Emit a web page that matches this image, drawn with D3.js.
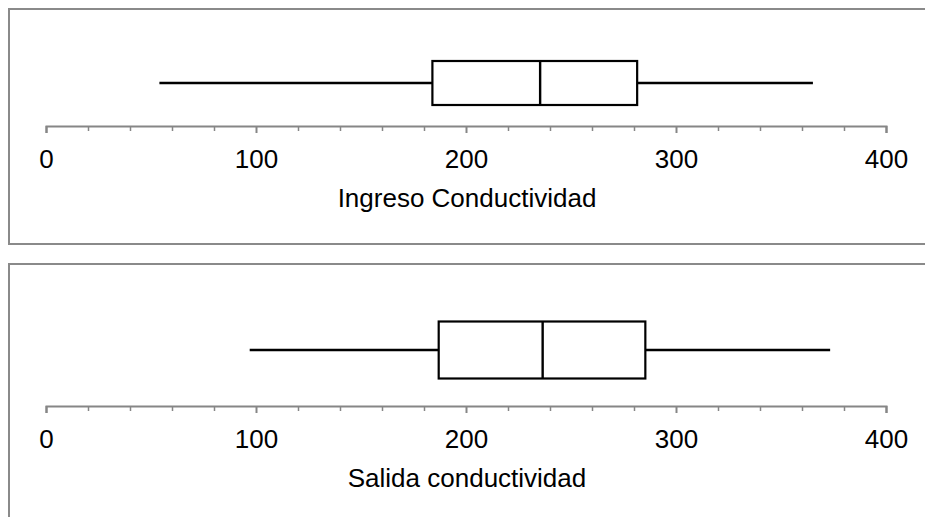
<!DOCTYPE html>
<html>
<head>
<meta charset="utf-8">
<script src="https://cdn.jsdelivr.net/npm/d3@7"></script>
<style>
  html, body { margin: 0; padding: 0; background: #fff; }
  svg { display: block; }
  text { font-family: "Liberation Sans", Arial, sans-serif; }
</style>
</head>
<body>
<svg id="chart" width="925" height="517"></svg>
<script>
// ---- Data ----
const panelTitles = ["Ingreso Conductividad", "Salida conductividad"];
const minValues = [54, 97];
const q1Values = [184, 187];
const medianValues = [235.3, 236.5];
const q3Values = [281.5, 285.4];
const maxValues = [365.2, 373.4];
const majorTicks = [0, 100, 200, 300, 400];
const minorTicks = [20, 40, 60, 80, 120, 140, 160, 180, 220, 240, 260, 280, 320, 340, 360, 380];

// ---- Layout ----
const panelTop = [9, 264];
const panelBottom = [244, 540];
const boxCenter = [83, 350];
const boxHeight = [44, 57];
const axisY = [126, 406];
const titleY = [207, 487];

const svg = d3.select("#chart");
const x = d3.scaleLinear().domain([0, 400]).range([46, 886]);

panelTitles.forEach((title, i) => {
  const g = svg.append("g");

  // panel border
  g.append("rect")
    .attr("x", 9).attr("y", panelTop[i])
    .attr("width", 940).attr("height", panelBottom[i] - panelTop[i])
    .attr("fill", "none").attr("stroke", "#8a8a8a").attr("stroke-width", 2);

  // minor ticks
  const minorAxis = d3.axisBottom(x).tickValues(minorTicks).tickSize(5).tickFormat("");
  const gm = g.append("g").attr("transform", `translate(0,${axisY[i]})`).call(minorAxis);
  gm.select(".domain").remove();
  gm.selectAll("line").attr("stroke", "#868686").attr("stroke-width", 1.5);

  // major axis
  const axis = d3.axisBottom(x).tickValues(majorTicks).tickSize(7).tickSizeOuter(7)
    .tickPadding(16.5).tickFormat(d3.format("d"));
  const ga = g.append("g").attr("transform", `translate(0,${axisY[i]})`).call(axis);
  ga.select(".domain").attr("stroke", "#868686").attr("stroke-width", 2);
  ga.selectAll(".tick line").attr("stroke", "#868686").attr("stroke-width", 2);
  ga.selectAll(".tick text").attr("fill", "#000").attr("font-size", 26)
    .attr("font-family", "'Liberation Sans', Arial, sans-serif");

  // axis title
  g.append("text")
    .attr("x", (x(0) + x(400)) / 2 + 1).attr("y", titleY[i])
    .attr("text-anchor", "middle").attr("font-size", 26).attr("fill", "#000")
    .text(title);

  // whiskers
  const cy = boxCenter[i];
  g.append("line")
    .attr("x1", x(minValues[i])).attr("x2", x(q1Values[i]))
    .attr("y1", cy).attr("y2", cy)
    .attr("stroke", "#000").attr("stroke-width", 2.6);
  g.append("line")
    .attr("x1", x(q3Values[i])).attr("x2", x(maxValues[i]))
    .attr("y1", cy).attr("y2", cy)
    .attr("stroke", "#000").attr("stroke-width", 2.6);

  // box
  const h = boxHeight[i];
  g.append("rect")
    .attr("x", x(q1Values[i])).attr("y", cy - h / 2)
    .attr("width", x(q3Values[i]) - x(q1Values[i])).attr("height", h)
    .attr("fill", "#fff").attr("stroke", "#000").attr("stroke-width", 2.2);

  // median
  g.append("line")
    .attr("x1", x(medianValues[i])).attr("x2", x(medianValues[i]))
    .attr("y1", cy - h / 2).attr("y2", cy + h / 2)
    .attr("stroke", "#000").attr("stroke-width", 2.4);
});
</script>
</body>
</html>
